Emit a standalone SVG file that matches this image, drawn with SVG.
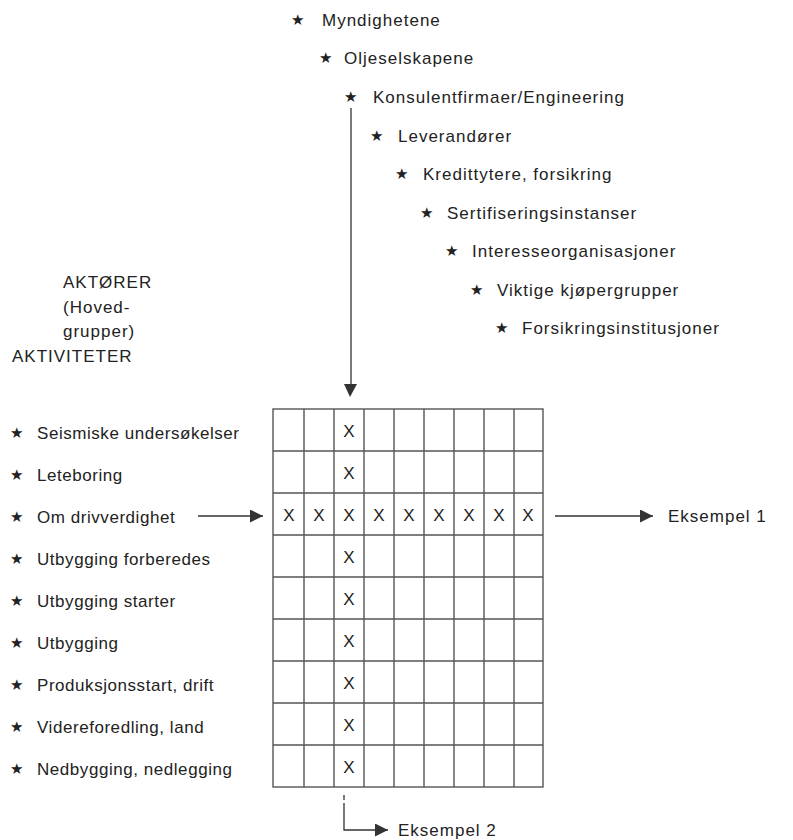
<svg xmlns="http://www.w3.org/2000/svg" width="793" height="840" viewBox="0 0 793 840">
<defs>
<style>
text{font-family:"Liberation Sans",Arial,sans-serif;fill:#222;}
.t{font-size:17px;letter-spacing:1px;}
.l{font-size:17px;letter-spacing:0.55px;}
.s{font-size:15px;font-family:"DejaVu Sans",sans-serif;}
.x{font-size:17px;text-anchor:middle;}
.g{stroke:#555;stroke-width:1.4;fill:none;}
.c{stroke:#333;stroke-width:1.3;fill:none;}
</style>
<marker id="ah" viewBox="0 0 10 10" refX="10" refY="5" markerWidth="14" markerHeight="13" markerUnits="userSpaceOnUse" orient="auto"><path d="M0,0 L10,5 L0,10 z" fill="#333"/></marker>
</defs>
<rect width="793" height="840" fill="#fff"/>
<g id="actors">
<text class="s" x="291" y="25">★</text><text class="t" x="322" y="26">Myndighetene</text>
<text class="s" x="319" y="63">★</text><text class="t" x="344" y="64">Oljeselskapene</text>
<text class="s" x="344" y="102">★</text><text class="t" x="373" y="103">Konsulentfirmaer/Engineering</text>
<text class="s" x="370" y="141">★</text><text class="t" x="398" y="142">Leverandører</text>
<text class="s" x="395" y="179">★</text><text class="t" x="423" y="180">Kredittytere, forsikring</text>
<text class="s" x="420" y="218">★</text><text class="t" x="447" y="219">Sertifiseringsinstanser</text>
<text class="s" x="445" y="256">★</text><text class="t" x="472" y="257">Interesseorganisasjoner</text>
<text class="s" x="470" y="295">★</text><text class="t" x="497" y="296">Viktige kjøpergrupper</text>
<text class="s" x="495" y="333">★</text><text class="t" x="522" y="334">Forsikringsinstitusjoner</text>
</g>
<g id="headings">
<text class="t" x="63" y="288">AKTØRER</text>
<text class="t" x="63" y="313">(Hoved-</text>
<text class="t" x="63" y="337">grupper)</text>
<text class="t" x="12" y="362">AKTIVITETER</text>
</g>
<g id="activities">
<text class="s" x="10" y="438">★</text><text class="l" x="37" y="439">Seismiske undersøkelser</text>
<text class="s" x="10" y="480">★</text><text class="l" x="37" y="481">Leteboring</text>
<text class="s" x="10" y="522">★</text><text class="l" x="37" y="523">Om drivverdighet</text>
<text class="s" x="10" y="564">★</text><text class="l" x="37" y="565">Utbygging forberedes</text>
<text class="s" x="10" y="606">★</text><text class="l" x="37" y="607">Utbygging starter</text>
<text class="s" x="10" y="648">★</text><text class="l" x="37" y="649">Utbygging</text>
<text class="s" x="10" y="690">★</text><text class="l" x="37" y="691">Produksjonsstart, drift</text>
<text class="s" x="10" y="732">★</text><text class="l" x="37" y="733">Videreforedling, land</text>
<text class="s" x="10" y="774">★</text><text class="l" x="37" y="775">Nedbygging, nedlegging</text>
</g>
<g id="matrix">
<rect class="g" x="273" y="409" width="270" height="378"/>
<path class="g" d="M304,409V787M334,409V787M364,409V787M394,409V787M424,409V787M454,409V787M484,409V787M514,409V787"/>
<path class="g" d="M273,451H543M273,493H543M273,535H543M273,577H543M273,619H543M273,661H543M273,703H543M273,745H543"/>
<text class="x" x="349" y="437">X</text>
<text class="x" x="349" y="479">X</text>
<text class="x" x="289" y="521">X</text><text class="x" x="319" y="521">X</text><text class="x" x="349" y="521">X</text><text class="x" x="379" y="521">X</text><text class="x" x="409" y="521">X</text><text class="x" x="439" y="521">X</text><text class="x" x="469" y="521">X</text><text class="x" x="499" y="521">X</text><text class="x" x="528" y="521">X</text>
<text class="x" x="349" y="563">X</text>
<text class="x" x="349" y="605">X</text>
<text class="x" x="349" y="647">X</text>
<text class="x" x="349" y="689">X</text>
<text class="x" x="349" y="731">X</text>
<text class="x" x="349" y="773">X</text>
</g>
<g id="examples">
<text class="t" x="668" y="522">Eksempel 1</text>
<text class="t" x="398" y="836">Eksempel 2</text>
</g>
<g id="connectors">
<path class="c" d="M351,108V385"/>
<path d="M344,384L357,384L350,397z" fill="#333"/>
<path class="c" d="M198,516H263" marker-end="url(#ah)"/>
<path class="c" d="M555,516H653" marker-end="url(#ah)"/>
<path class="c" d="M344,795V800"/>
<path class="c" d="M344,803V830H388" marker-end="url(#ah)"/>
</g>
</svg>
